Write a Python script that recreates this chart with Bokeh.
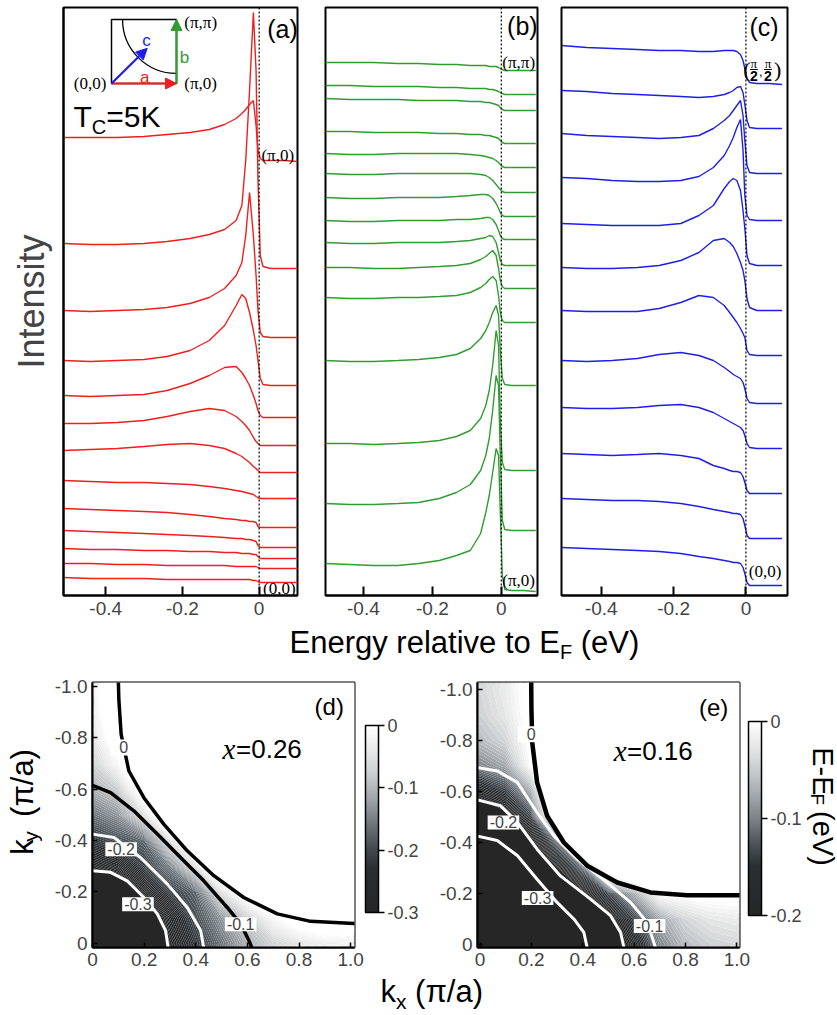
import numpy as np
from bokeh.plotting import figure
from bokeh.layouts import column, row
from bokeh.models import (Range1d, Span, Label, FixedTicker, CustomJSTickFormatter,
                          Arrow, NormalHead, ColorBar, LinearColorMapper, BoxAnnotation)
from bokeh.embed import file_html
from bokeh.resources import INLINE

# ============================ DATA ============================
energy = [-0.51, -0.44, -0.37, -0.30, -0.24, -0.18, -0.13, -0.09, -0.06, -0.045,
          -0.035, -0.025, -0.015, -0.008, -0.003, 0.003, 0.01, 0.03, 0.065, 0.10]

# (a) cut (0,0)->(pi,0); listed top curve first (arb. units, offsets included)
edc_a = [
    [463, 463, 463, 464, 466, 468, 471, 476, 482, 487, 491, 496, 500, 475, 450, 442, 440, 440, 440, 439],
    [357, 356, 356, 357, 359, 362, 366, 371, 380, 395, 440, 510, 588, 530, 420, 345, 334, 332, 332, 332],
    [290, 289, 290, 291, 293, 297, 303, 312, 325, 338, 365, 408, 365, 325, 290, 268, 264, 263, 263, 263],
    [240, 239, 240, 241, 244, 250, 260, 275, 295, 306, 302, 288, 270, 255, 240, 222, 216, 215, 215, 215],
    [205, 204, 205, 206, 210, 217, 225, 233, 234, 228, 222, 215, 205, 197, 190, 185, 183, 183, 183, 183],
    [177, 177, 178, 180, 184, 189, 192, 190, 184, 179, 175, 170, 163, 159, 157, 155, 155, 155, 155, 155],
    [150, 151, 152, 154, 156, 157, 155, 152, 147, 144, 141, 138, 134, 132, 130, 128, 128, 128, 128, 128],
    [120, 119, 118, 118, 117, 116, 114, 112, 110, 109, 108, 107, 106, 104, 103, 102, 102, 102, 102, 102],
    [92, 91, 90, 89, 88, 86, 84, 82, 81, 80, 80, 79, 79, 78, 74, 73, 73, 73, 73, 73],
    [70, 69, 68, 67, 66, 65, 64, 63, 62, 62, 61, 61, 60, 59, 55, 53, 53, 53, 53, 53],
    [52, 51, 51, 50, 50, 49, 49, 48, 48, 47, 47, 47, 46, 46, 44, 42, 42, 42, 42, 42],
    [37, 37, 36, 36, 35, 35, 35, 35, 34, 34, 34, 34, 34, 34, 33, 32, 32, 32, 32, 32],
    [23, 22, 22, 22, 21, 21, 21, 21, 21, 21, 21, 21, 20, 20, 19, 18, 18, 18, 18, 18],
]

# (b) cut (pi,0)->(pi,pi); listed top curve (pi,pi) first
edc_b = [
    [538, 538, 538, 537, 537, 536, 536, 535, 535, 535, 534, 534, 534, 533, 532, 531, 530, 530, 530, 530],
    [515, 515, 514, 514, 514, 513, 513, 512, 512, 512, 511, 511, 510, 509, 508, 507, 506, 506, 506, 506],
    [502, 501, 501, 501, 500, 500, 500, 499, 499, 498, 498, 497, 496, 495, 493, 491, 490, 490, 490, 490],
    [469, 469, 468, 468, 468, 467, 467, 466, 466, 465, 465, 464, 463, 462, 460, 458, 457, 457, 457, 457],
    [447, 446, 446, 447, 447, 447, 447, 446, 445, 444, 443, 442, 440, 438, 436, 434, 433, 433, 433, 433],
    [427, 426, 426, 427, 427, 427, 427, 427, 426, 425, 423, 420, 416, 413, 411, 409, 408, 408, 408, 408],
    [403, 402, 402, 403, 403, 403, 404, 405, 406, 406, 405, 402, 397, 392, 388, 385, 384, 384, 384, 384],
    [380, 379, 379, 380, 380, 380, 381, 381, 382, 383, 383, 381, 376, 370, 365, 362, 361, 361, 361, 361],
    [358, 357, 357, 358, 358, 358, 359, 360, 362, 363, 365, 364, 358, 348, 340, 336, 335, 335, 335, 335],
    [333, 333, 332, 332, 333, 334, 335, 337, 341, 344, 347, 350, 345, 332, 320, 314, 312, 312, 312, 312],
    [303, 302, 302, 303, 303, 304, 305, 308, 313, 317, 321, 324, 320, 305, 288, 280, 278, 278, 278, 278],
    [240, 239, 239, 240, 241, 243, 246, 252, 262, 270, 278, 288, 295, 285, 250, 222, 216, 215, 215, 215],
    [157, 157, 156, 157, 158, 160, 164, 170, 182, 195, 210, 235, 270, 255, 180, 138, 131, 130, 130, 130],
    [97, 96, 96, 97, 98, 102, 108, 116, 130, 145, 162, 190, 225, 215, 145, 80, 71, 70, 70, 70],
    [37, 36, 35, 35, 37, 40, 45, 50, 67, 88, 105, 128, 152, 145, 90, 25, 11, 10, 10, 9],
]

# (c) cut (0,0)->(pi/2,pi/2); listed top curve (pi/2,pi/2) first
edc_c = [
    [555, 553, 552, 551, 550, 550, 549, 549, 550, 550, 550, 549, 546, 540, 532, 522, 518, 517, 517, 516],
    [510, 509, 507, 506, 505, 504, 503, 504, 506, 508, 510, 513, 514, 508, 496, 480, 473, 472, 472, 472],
    [467, 465, 464, 463, 462, 463, 465, 472, 480, 485, 490, 495, 500, 485, 460, 435, 428, 427, 427, 427],
    [423, 422, 420, 419, 419, 420, 424, 433, 445, 455, 463, 473, 481, 450, 405, 385, 381, 380, 380, 380],
    [377, 376, 375, 375, 375, 377, 385, 395, 412, 419, 422, 420, 410, 390, 372, 345, 337, 335, 335, 335],
    [333, 332, 332, 333, 335, 340, 348, 360, 362, 358, 354, 347, 338, 330, 320, 302, 293, 290, 290, 290],
    [290, 289, 289, 289, 292, 298, 305, 303, 295, 288, 283, 278, 272, 267, 263, 250, 246, 245, 245, 245],
    [240, 239, 240, 242, 246, 248, 245, 240, 233, 229, 226, 224, 222, 218, 212, 202, 198, 197, 197, 197],
    [193, 192, 192, 193, 195, 196, 193, 188, 182, 179, 177, 175, 173, 170, 165, 157, 153, 152, 152, 152],
    [147, 146, 145, 146, 147, 145, 142, 135, 132, 130, 129, 129, 128, 124, 118, 110, 107, 107, 107, 107],
    [102, 101, 100, 100, 99, 97, 94, 91, 89, 88, 87, 87, 86, 82, 75, 65, 62, 62, 62, 62],
    [53, 52, 51, 50, 49, 47, 44, 42, 40, 39, 38, 38, 37, 33, 27, 18, 15, 15, 15, 15],
]

# dispersion maps: disp[j][i] = E-EF (eV) at kx = k_nodes[i], ky = -k_nodes[j]
k_nodes = [0.0, 0.1, 0.2, 0.3, 0.4, 0.5, 0.6, 0.7, 0.8, 0.9, 1.0]
disp_d = [
    [-0.42, -0.41, -0.37, -0.295, -0.22, -0.16, -0.105, -0.07, -0.045, -0.03, -0.025],
    [-0.41, -0.40, -0.355, -0.265, -0.195, -0.13, -0.075, -0.01, 0.03, 0.05, 0.055],
    [-0.37, -0.355, -0.285, -0.21, -0.17, -0.05, 0.03, 0.08, 0.10, 0.11, 0.115],
    [-0.295, -0.265, -0.21, -0.15, -0.05, 0.06, 0.11, 0.14, 0.16, 0.17, 0.175],
    [-0.22, -0.195, -0.17, -0.05, 0.05, 0.12, 0.16, 0.19, 0.20, 0.21, 0.21],
    [-0.16, -0.13, -0.05, 0.06, 0.12, 0.17, 0.20, 0.22, 0.23, 0.24, 0.24],
    [-0.105, -0.075, 0.03, 0.11, 0.16, 0.20, 0.23, 0.25, 0.26, 0.27, 0.27],
    [-0.07, -0.01, 0.08, 0.14, 0.19, 0.22, 0.25, 0.27, 0.28, 0.29, 0.29],
    [-0.045, 0.03, 0.10, 0.16, 0.20, 0.23, 0.26, 0.28, 0.29, 0.30, 0.30],
    [-0.03, 0.05, 0.11, 0.17, 0.21, 0.24, 0.27, 0.29, 0.30, 0.31, 0.31],
    [-0.025, 0.055, 0.115, 0.175, 0.21, 0.24, 0.27, 0.29, 0.30, 0.31, 0.31],
]
disp_e = [
    [-0.50, -0.49, -0.46, -0.40, -0.32, -0.25, -0.175, -0.097, -0.06, -0.045, -0.04],
    [-0.49, -0.48, -0.45, -0.375, -0.285, -0.22, -0.14, -0.075, -0.04, -0.025, -0.02],
    [-0.46, -0.45, -0.39, -0.28, -0.21, -0.135, -0.07, 0.0, 0.005, 0.01, 0.01],
    [-0.40, -0.375, -0.28, -0.20, -0.11, 0.05, 0.08, 0.10, 0.11, 0.12, 0.12],
    [-0.32, -0.285, -0.21, -0.11, 0.15, 0.17, 0.19, 0.20, 0.21, 0.22, 0.22],
    [-0.25, -0.22, -0.135, 0.05, 0.17, 0.20, 0.22, 0.23, 0.24, 0.25, 0.25],
    [-0.175, -0.14, -0.07, 0.08, 0.19, 0.22, 0.24, 0.25, 0.26, 0.27, 0.27],
    [-0.097, -0.075, 0.0, 0.10, 0.20, 0.23, 0.25, 0.26, 0.27, 0.28, 0.28],
    [-0.06, -0.04, 0.005, 0.11, 0.21, 0.24, 0.26, 0.27, 0.28, 0.29, 0.29],
    [-0.045, -0.025, 0.01, 0.12, 0.22, 0.25, 0.27, 0.28, 0.29, 0.30, 0.30],
    [-0.04, -0.02, 0.01, 0.12, 0.22, 0.25, 0.27, 0.28, 0.29, 0.30, 0.30],
]

# iso-energy contour lines (kx, ky)
d_c0_kx = [0.100, 0.102, 0.111, 0.141, 0.199, 0.276, 0.367, 0.470, 0.586, 0.716, 0.845, 1.013, 1.05]
d_c0_ky = [-1.03, -0.95, -0.814, -0.671, -0.567, -0.464, -0.360, -0.263, -0.178, -0.114, -0.085, -0.077, -0.077]
d_c1_kx = [0.0, 0.070, 0.160, 0.251, 0.341, 0.431, 0.522, 0.574, 0.606, 0.622]
d_c1_ky = [-0.615, -0.587, -0.516, -0.425, -0.334, -0.243, -0.139, -0.075, -0.010, 0.03]
d_c2_kx = [0.0, 0.083, 0.186, 0.290, 0.367, 0.419, 0.433]
d_c2_ky = [-0.425, -0.412, -0.334, -0.230, -0.139, -0.049, 0.03]
d_c3_kx = [0.0, 0.070, 0.134, 0.199, 0.251, 0.283, 0.295]
d_c3_ky = [-0.282, -0.276, -0.243, -0.178, -0.114, -0.049, 0.03]

e_c0_kx = [0.199, 0.200, 0.203, 0.222, 0.261, 0.326, 0.417, 0.534, 0.663, 0.806, 1.001, 1.05]
e_c0_ky = [-1.04, -0.92, -0.792, -0.635, -0.504, -0.399, -0.308, -0.242, -0.203, -0.192, -0.192, -0.192]
e_c1_kx = [-0.02, 0.067, 0.145, 0.222, 0.287, 0.378, 0.495, 0.586, 0.651, 0.683, 0.69]
e_c1_ky = [-0.695, -0.680, -0.635, -0.517, -0.426, -0.335, -0.242, -0.164, -0.085, 0.013, 0.03]
e_c2_kx = [-0.02, 0.080, 0.145, 0.222, 0.313, 0.430, 0.508, 0.547, 0.560, 0.562]
e_c2_ky = [-0.569, -0.543, -0.478, -0.373, -0.268, -0.177, -0.112, -0.046, 0.013, 0.03]
e_c3_kx = [-0.02, 0.067, 0.145, 0.222, 0.300, 0.365, 0.404, 0.417, 0.419]
e_c3_ky = [-0.426, -0.407, -0.348, -0.255, -0.164, -0.099, -0.046, 0.013, 0.03]

x_ticks_edc = [-0.4, -0.2, 0.0]
k_ticks_x = [0.0, 0.2, 0.4, 0.6, 0.8, 1.0]
k_ticks_y = [0.0, -0.2, -0.4, -0.6, -0.8, -1.0]
cb_ticks_d = [-0.3, -0.2, -0.1, 0.0]
cb_ticks_e = [-0.2, -0.1, 0.0]

# ============================ STYLE ============================
SANS = "Liberation Sans"
SERIF = "Liberation Serif"
RED = "#f01e1e"
GREEN = "#2f9e2f"
BLUE = "#1e1eec"

stops_d = [(-0.30, "#262626"), (-0.23, "#2b2e31"), (-0.20, "#40484e"), (-0.16, "#6d757b"),
           (-0.12, "#9da3a7"), (-0.08, "#c9cccd"), (-0.04, "#e9e9e9"), (0.0, "#ffffff")]
stops_e = [(-0.20, "#262626"), (-0.15, "#2b2e31"), (-0.13, "#454d53"), (-0.10, "#7c848a"),
           (-0.07, "#acb1b4"), (-0.04, "#d6d8d9"), (-0.02, "#ececec"), (0.0, "#ffffff")]


def hex2rgb(h):
    return [int(h[i:i + 2], 16) for i in (1, 3, 5)]


def shade(v, stops):
    if v <= stops[0][0]:
        return stops[0][1]
    if v >= stops[-1][0]:
        return stops[-1][1]
    for (v0, c0), (v1, c1) in zip(stops[:-1], stops[1:]):
        if v0 <= v <= v1:
            t = (v - v0) / (v1 - v0)
            rgb = [int(round(a + (b - a) * t)) for a, b in zip(hex2rgb(c0), hex2rgb(c1))]
            return "#%02x%02x%02x" % tuple(rgb)
    return stops[-1][1]


def fmt():
    return CustomJSTickFormatter(code="return Math.abs(tick) < 1e-9 ? '0' : tick.toFixed(1);")


def lab(p, x, y, text, size, font=SANS, color="black", align="left", baseline="middle",
        units="data", angle=0.0, style="normal", **kw):
    p.add_layout(Label(x=x, y=y, x_units=units, y_units=units, text=text, text_font=font,
                       text_font_size=size, text_color=color, text_align=align,
                       text_baseline=baseline, angle=angle, text_font_style=style, **kw))


# ============================ EDC PANELS ============================
FH = 588


def edc_panel(curves, color, x_end, fw, left, right, ylabel=False):
    p = figure(frame_width=fw, frame_height=FH,
               x_range=Range1d(-0.51, x_end), y_range=Range1d(5, 593),
               min_border_left=left, min_border_right=right,
               min_border_top=7, min_border_bottom=31,
               y_axis_location="left" if ylabel else None,
               output_backend="svg", toolbar_location=None)
    p.grid.visible = False
    p.outline_line_color = "black"
    p.outline_line_width = 2
    p.background_fill_color = "white"
    p.border_fill_color = "white"
    ax = p.xaxis[0]
    ax.ticker = FixedTicker(ticks=x_ticks_edc)
    ax.formatter = fmt()
    ax.major_tick_in = 9
    ax.major_tick_out = 0
    ax.minor_tick_line_color = None
    ax.major_tick_line_width = 2
    ax.axis_line_width = 2
    ax.major_label_text_font = SANS
    ax.major_label_text_font_size = "19px"
    ax.major_label_standoff = 6
    if ylabel:
        ay = p.yaxis[0]
        ay.ticker = FixedTicker(ticks=[])
        ay.major_tick_line_color = None
        ay.minor_tick_line_color = None
        ay.axis_label = "Intensity"
        ay.axis_label_text_font = SANS
        ay.axis_label_text_font_size = "36px"
        ay.axis_label_text_font_style = "normal"
        ay.axis_label_standoff = 12
        ay.axis_line_width = 2
    p.add_layout(Span(location=0, dimension="height", line_color="black",
                      line_width=1.2, line_dash="2 2"))
    for ys in curves:
        p.line(energy, ys, line_color=color, line_width=1.4)
    return p


fa = edc_panel(edc_a, RED, 0.10, 234, 63, 2, ylabel=True)
fb = edc_panel(edc_b, GREEN, 0.105, 212, 26, 2)
fc = edc_panel(edc_c, BLUE, 0.115, 226, 22, 12)

# panel letters and end labels
lab(fa, 0.061, 572, "(a)", "25px", align="center")
lab(fb, 0.061, 575, "(b)", "25px", align="center")
lab(fc, 0.050, 574, "(c)", "25px", align="center")
lab(fa, 0.006, 445, "(\u03c0,0)", "17px", font=SERIF)
lab(fa, 0.010, 12, "(0,0)", "17px", font=SERIF)
lab(fb, 0.003, 538, "(\u03c0,\u03c0)", "17px", font=SERIF)
lab(fb, 0.003, 20, "(\u03c0,0)", "17px", font=SERIF)
lab(fc, 0.008, 29, "(0,0)", "17px", font=SERIF)
# (pi/2, pi/2)
lab(fc, 0.003, 531, "(", "22px", font=SERIF, align="center")
lab(fc, 0.088, 531, ")", "22px", font=SERIF, align="center")
lab(fc, 0.022, 537, "\u03c0", "13px", font=SERIF, align="center")
lab(fc, 0.061, 537, "\u03c0", "13px", font=SERIF, align="center")
lab(fc, 0.022, 525, "2", "14px", align="center", style="bold")
lab(fc, 0.061, 525, "2", "14px", align="center", style="bold")
lab(fc, 0.041, 529, ",", "13px", align="center")
fc.add_layout(BoxAnnotation(left=0.011, right=0.033, bottom=530.4, top=531.6,
                            fill_color="black", fill_alpha=1, line_color=None))
fc.add_layout(BoxAnnotation(left=0.050, right=0.072, bottom=530.4, top=531.6,
                            fill_color="black", fill_alpha=1, line_color=None))

# T_C = 5K (screen units relative to frame bottom-left)
lab(fa, 10, 479, "T", "30px", units="screen")
lab(fa, 28.3, 469, "C", "20px", units="screen")
lab(fa, 42.7, 479, "=5K", "30px", units="screen")

# inset (schematic Brillouin zone) with its own k ranges
F_LEFT, F_RIGHT, F_TOP, F_BOT = 63, 297, 7, 595
K0X, K1X, K0Y, K1Y = 111, 176, 83, 19
sxu = K1X - K0X
syu = K0Y - K1Y
fa.extra_x_ranges = {"ix": Range1d((F_LEFT - K0X) / sxu, (F_RIGHT - K0X) / sxu)}
fa.extra_y_ranges = {"iy": Range1d((K0Y - F_BOT) / syu, (K0Y - F_TOP) / syu)}
fa.quad(left=0, right=1, bottom=0, top=1, fill_color=None, line_color="black",
        line_width=1.5, x_range_name="ix", y_range_name="iy")
fa.arc(x=1, y=1, radius=0.83, start_angle=np.pi, end_angle=1.5 * np.pi,
       line_color="black", line_width=1.3, x_range_name="ix", y_range_name="iy")
for (xs, ys, xe, ye, col) in [(0, 0, 1, 0, RED), (1, 0, 1, 1, GREEN), (0, 0, 0.55, 0.55, BLUE)]:
    fa.add_layout(Arrow(end=NormalHead(size=11, fill_color=col, line_color=col),
                        x_start=xs, y_start=ys, x_end=xe, y_end=ye,
                        line_color=col, line_width=2.2,
                        x_range_name="ix", y_range_name="iy"))
for (x, y, t, al, col, fnt) in [(-0.08, 0, "(0,0)", "right", "black", SERIF),
                                (1.12, 0, "(\u03c0,0)", "left", "black", SERIF),
                                (1.12, 0.96, "(\u03c0,\u03c0)", "left", "black", SERIF),
                                (0.51, 0.10, "a", "center", RED, SANS),
                                (1.123, 0.41, "b", "center", GREEN, SANS),
                                (0.54, 0.67, "c", "center", BLUE, SANS)]:
    fa.add_layout(Label(x=x, y=y, text=t, text_font=fnt, text_font_size="17px",
                        text_color=col, text_align=al, text_baseline="middle",
                        x_range_name="ix", y_range_name="iy"))


# ============================ TEXT STRIPS ============================
def strip(w, h):
    s = figure(width=w, height=h, x_range=Range1d(0, w), y_range=Range1d(0, h),
               min_border_left=0, min_border_right=0, min_border_top=0, min_border_bottom=0,
               x_axis_location=None, y_axis_location=None,
               output_backend="svg", toolbar_location=None)
    s.grid.visible = False
    s.outline_line_color = None
    s.background_fill_color = "white"
    s.border_fill_color = "white"
    return s


s1 = strip(837, 36)
lab(s1, 289, 19.8, "Energy relative to E", "31px")
lab(s1, 559.5, 11, "F", "20px")
lab(s1, 580.3, 19.8, "(eV)", "31px")

# ============================ K-SPACE MAPS ============================
def kmap_panel(grid, xr, yr, left, right, top, stops, low, cb_ticks, cb_dx, cb_dy, cb_h):
    p = figure(frame_width=262, frame_height=265, x_range=Range1d(*xr), y_range=Range1d(*yr),
               min_border_left=left, min_border_right=right, min_border_top=top,
               min_border_bottom=313 - 265 - top, output_backend="svg", toolbar_location=None)
    p.grid.visible = False
    p.outline_line_color = "black"
    p.outline_line_width = 2
    p.border_fill_color = "white"
    for ax, tk in ((p.xaxis[0], k_ticks_x), (p.yaxis[0], k_ticks_y)):
        ax.ticker = FixedTicker(ticks=tk)
        ax.formatter = fmt()
        ax.major_tick_in = 5
        ax.major_tick_out = 0
        ax.minor_tick_line_color = None
        ax.major_tick_line_width = 1.5
        ax.axis_line_width = 2
        ax.major_label_text_font = SANS
        ax.major_label_text_font_size = "19px"
        ax.major_label_standoff = 5
    # grid extended by mirror symmetry about the zone edges
    G = np.array(grid)
    G = np.hstack([G[:, 1:2], G, G[:, -2:-1]])
    G = np.vstack([G[1:2], G, G[-2:-1]])
    kx = [-k_nodes[1]] + list(k_nodes) + [2 * k_nodes[-1] - k_nodes[-2]]
    ky_desc = [k_nodes[1]] + [-k for k in k_nodes] + [-(2 * k_nodes[-1] - k_nodes[-2])]
    z = G[::-1]
    ky = ky_desc[::-1]
    nb = int(round(-low / 0.005))
    levels = [-1.0] + list(np.linspace(low, 0.0, nb + 1)) + [1.0]
    fills = [shade(0.5 * (levels[i] + levels[i + 1]), stops) for i in range(len(levels) - 1)]
    cr = p.contour(x=kx, y=ky, z=z, levels=levels, fill_color=fills)
    g = cr.fill_renderer.glyph
    g.line_color = g.fill_color
    g.line_width = 1.2
    pal = [shade(low + (0 - low) * i / 255.0, stops) for i in range(256)]
    cb = ColorBar(color_mapper=LinearColorMapper(palette=pal, low=low, high=0.0),
                  ticker=FixedTicker(ticks=cb_ticks), formatter=fmt(),
                  width=13, height=cb_h, location=(cb_dx, cb_dy), padding=0, margin=0,
                  major_tick_in=0, major_tick_out=6, major_tick_line_color="black",
                  major_tick_line_width=1.5, minor_tick_line_color=None,
                  bar_line_color="black", bar_line_width=1.5,
                  major_label_text_font=SANS, major_label_text_font_size="18px",
                  label_standoff=3, background_fill_color=None, border_line_color=None)
    p.add_layout(cb, "right")
    return p


fd = kmap_panel(disp_d, (0.0, 1.015), (0.017, -1.016), 50, 73, 20, stops_d, -0.3,
                cb_ticks_d, 11, 35, 187)
fe = kmap_panel(disp_e, (-0.01, 1.01), (0.013, -1.027), 50, 66, 18, stops_e, -0.2,
                cb_ticks_e, 9, 32, 194)

for p, lines in ((fd, [(d_c0_kx, d_c0_ky, "black", 3.5), (d_c1_kx, d_c1_ky, "black", 3.5),
                       (d_c2_kx, d_c2_ky, "white", 3.0), (d_c3_kx, d_c3_ky, "white", 3.0)]),
                 (fe, [(e_c1_kx, e_c1_ky, "white", 3.0), (e_c2_kx, e_c2_ky, "white", 3.0),
                       (e_c3_kx, e_c3_ky, "white", 3.0), (e_c0_kx, e_c0_ky, "black", 4.5)])):
    for xs, ys, col, w in lines:
        p.line(xs, ys, line_color=col, line_width=w, line_join="round")

for p, items in ((fd, [(0.121, -0.763, "0", (9, 2)), (0.111, -0.366, "-0.2", (2, 1)),
                       (0.176, -0.152, "-0.3", (2, 1)), (0.574, -0.074, "-0.1", (2, 1))]),
                 (fe, [(0.199, -0.824, "0", (9, 2)), (0.091, -0.478, "-0.2", (2, 1)),
                       (0.224, -0.181, "-0.3", (2, 1)), (0.660, -0.071, "-0.1", (2, 1))])):
    for x, y, t, pad in items:
        p.add_layout(Label(x=x, y=y, text=t, text_font=SANS, text_font_size="16px",
                           text_align="center", text_baseline="middle",
                           background_fill_color="white", padding=pad))

lab(fd, 0.917, -0.924, "(d)", "24px", align="center")
lab(fe, 0.909, -0.929, "(e)", "24px", align="center")
lab(fd, 0.504, -0.757, "x", "29px", font=SERIF, style="italic")
lab(fd, 0.556, -0.757, "=0.26", "26px")
lab(fe, 0.520, -0.760, "x", "29px", font=SERIF, style="italic")
lab(fe, 0.572, -0.760, "=0.16", "26px")

# k_y label strip (left of (d)); y measured from the bottom of the row
s_ky = strip(42, 313)
lab(s_ky, 22, 108, "k", "31px", angle=np.pi / 2)
lab(s_ky, 30, 123.5, "y", "21px", angle=np.pi / 2)
lab(s_ky, 22, 153, "(\u03c0/a)", "31px", angle=np.pi / 2)

# E-EF label strip (right of (e))
s_ee = strip(32, 313)
lab(s_ee, 17, 236, "E-E", "29px", angle=-np.pi / 2)
lab(s_ee, 12, 181, "F", "19px", angle=-np.pi / 2)
lab(s_ee, 17, 160, "(eV)", "29px", angle=-np.pi / 2)

# k_x label strip
s2 = strip(837, 39)
lab(s2, 380, 23, "k", "31px")
lab(s2, 395.5, 13.4, "x", "21px")
lab(s2, 414.6, 23, "(\u03c0/a)", "31px")

layout = column(row(fa, fb, fc), s1, row(s_ky, fd, fe, s_ee), s2)
open("out.html", "w").write(file_html(layout, INLINE))
